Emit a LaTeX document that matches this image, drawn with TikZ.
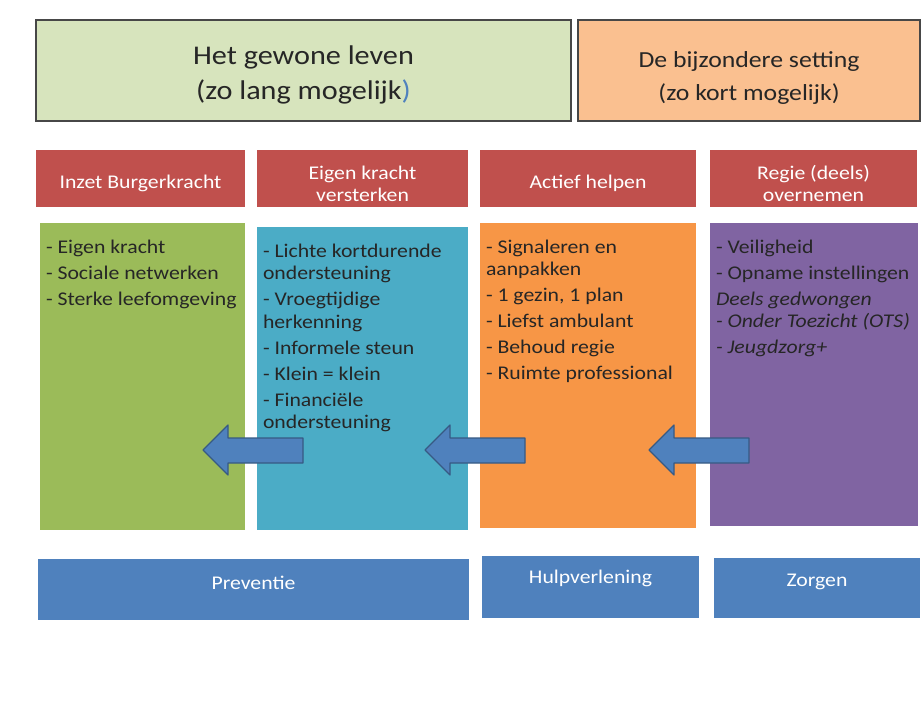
\documentclass[tikz,border=0pt]{standalone}
\usepackage{fontspec}
\setmainfont{Carlito}[FakeStretch=1.12]
\usepackage{tikz}
\usetikzlibrary{positioning}

\definecolor{topgreen}{HTML}{D7E4BD}
\definecolor{toporange}{HTML}{FAC090}
\definecolor{hdrred}{HTML}{C0504D}
\definecolor{colgreen}{HTML}{9BBB59}
\definecolor{colblue}{HTML}{4BACC6}
\definecolor{colorange}{HTML}{F79646}
\definecolor{colpurple}{HTML}{8064A2}
\definecolor{barblue}{HTML}{4F81BD}
\definecolor{inkdark}{HTML}{262626}

\begin{document}
\begin{tikzpicture}[
  x=1pt, y=-1pt,
  every node/.style={outer sep=0pt},
  titlebox/.style={draw=black!72, line width=1.6pt, anchor=north west,
                   inner sep=0pt, minimum height=101pt},
  titletxt/.style={align=center, text=inkdark, inner sep=0pt},
  hdr/.style={fill=hdrred, anchor=north west, minimum height=57pt,
              inner sep=0pt},
  hdrtxt/.style={text=white, align=center, inner sep=0pt,
                 font=\fontsize{19.4}{22}\selectfont},
  col/.style={anchor=north west, inner sep=0pt},
  coltxt/.style={anchor=north west, inner sep=0pt, align=left,
                 text=inkdark, font=\fontsize{19.4}{22.3}\selectfont},
  bar/.style={fill=barblue, anchor=north west, inner sep=0pt},
  bartxt/.style={text=white, inner sep=0pt,
                 font=\fontsize{19.4}{22}\selectfont},
  blockarrow/.style={fill=barblue, draw=barblue!70!black, line width=1.2pt,
                     line join=round}
]
\useasboundingbox[fill=white] (0,0) rectangle (921,704);

% top row: the two settings
\node[titlebox, fill=topgreen, minimum width=535pt] (gewoon) at (36,20) {};
\node[titlebox, fill=toporange, minimum width=342pt] (bijzonder) at (578,20) {};
\node[titletxt, font=\fontsize{27}{35}\selectfont] (gewoont)
  at ([yshift=-4pt]gewoon.center) {Het gewone leven\\(zo lang mogelijk\textcolor{barblue}{)}};
\node[titletxt, font=\fontsize{23}{33}\selectfont] (bijzondert)
  at ([yshift=-7pt]bijzonder.center) {De bijzondere setting\\(zo kort mogelijk)};

% column headers
\node[hdr, minimum width=209pt] (h1) at (36,150) {};
\node[hdr, minimum width=211pt] (h2) at (257,150) {};
\node[hdr, minimum width=216pt] (h3) at (480,150) {};
\node[hdr, minimum width=207pt] (h4) at (710,150) {};
\node[hdrtxt] (h1t) at ([yshift=-5pt]h1.center) {Inzet Burgerkracht};
\node[hdrtxt] (h2t) at ([yshift=-5pt]h2.center) {Eigen kracht\\versterken};
\node[hdrtxt] (h3t) at ([yshift=-5pt]h3.center) {Actief helpen};
\node[hdrtxt] (h4t) at ([yshift=-5pt]h4.center) {Regie (deels)\\overnemen};

% coloured columns
\node[col, fill=colgreen, minimum width=205pt, minimum height=307pt] (c1) at (40,223) {};
\node[col, fill=colblue, minimum width=211pt, minimum height=303pt] (c2) at (257,227) {};
\node[col, fill=colorange, minimum width=216pt, minimum height=305pt] (c3) at (480,223) {};
\node[col, fill=colpurple, minimum width=208pt, minimum height=303pt] (c4) at (710,223) {};

\node[coltxt] (c1t) at ([xshift=6pt,yshift=-17pt]c1.north west)
  {- Eigen kracht\\[3.7pt]- Sociale netwerken\\[3.7pt]- Sterke leefomgeving};
\node[coltxt] (c2t) at ([xshift=6pt,yshift=-17pt]c2.north west)
  {- Lichte kortdurende\\ondersteuning\\[3.7pt]- Vroegtijdige\\herkenning\\[3.7pt]%
   - Informele steun\\[3.7pt]- Klein = klein\\[3.7pt]- Financiële\\ondersteuning};
\node[coltxt] (c3t) at ([xshift=6pt,yshift=-17pt]c3.north west)
  {- Signaleren en\\aanpakken\\[3.7pt]- 1 gezin, 1 plan\\[3.7pt]- Liefst ambulant\\[3.7pt]%
   - Behoud regie\\[3.7pt]- Ruimte professional};
\node[coltxt] (c4t) at ([xshift=6pt,yshift=-17pt]c4.north west)
  {- Veiligheid\\[3.7pt]- Opname instellingen\\[3.7pt]\textit{Deels gedwongen}\\%
   \textit{- Onder Toezicht (OTS)}\\[3.7pt]\textit{- Jeugdzorg+}};

% block arrows pointing back towards the ordinary life
\foreach \tx in {203,425,649}
  \draw[blockarrow] (\tx,450) -- ++(25,-25) -- ++(0,13) -- ++(75,0)
    -- ++(0,25) -- ++(-75,0) -- ++(0,12) -- cycle;

% bottom bars
\node[bar, minimum width=431pt, minimum height=61pt] (prev) at (38,559) {};
\node[bar, minimum width=217pt, minimum height=62pt] (hulp) at (482,556) {};
\node[bar, minimum width=206pt, minimum height=60pt] (zorg) at (714,558) {};
\node[bartxt] (prevt) at ([yshift=7pt]prev.center) {Preventie};
\node[bartxt] (hulpt) at ([yshift=9pt]hulp.center) {Hulpverlening};
\node[bartxt] (zorgt) at ([yshift=6pt]zorg.center) {Zorgen};

\end{tikzpicture}
\end{document}
